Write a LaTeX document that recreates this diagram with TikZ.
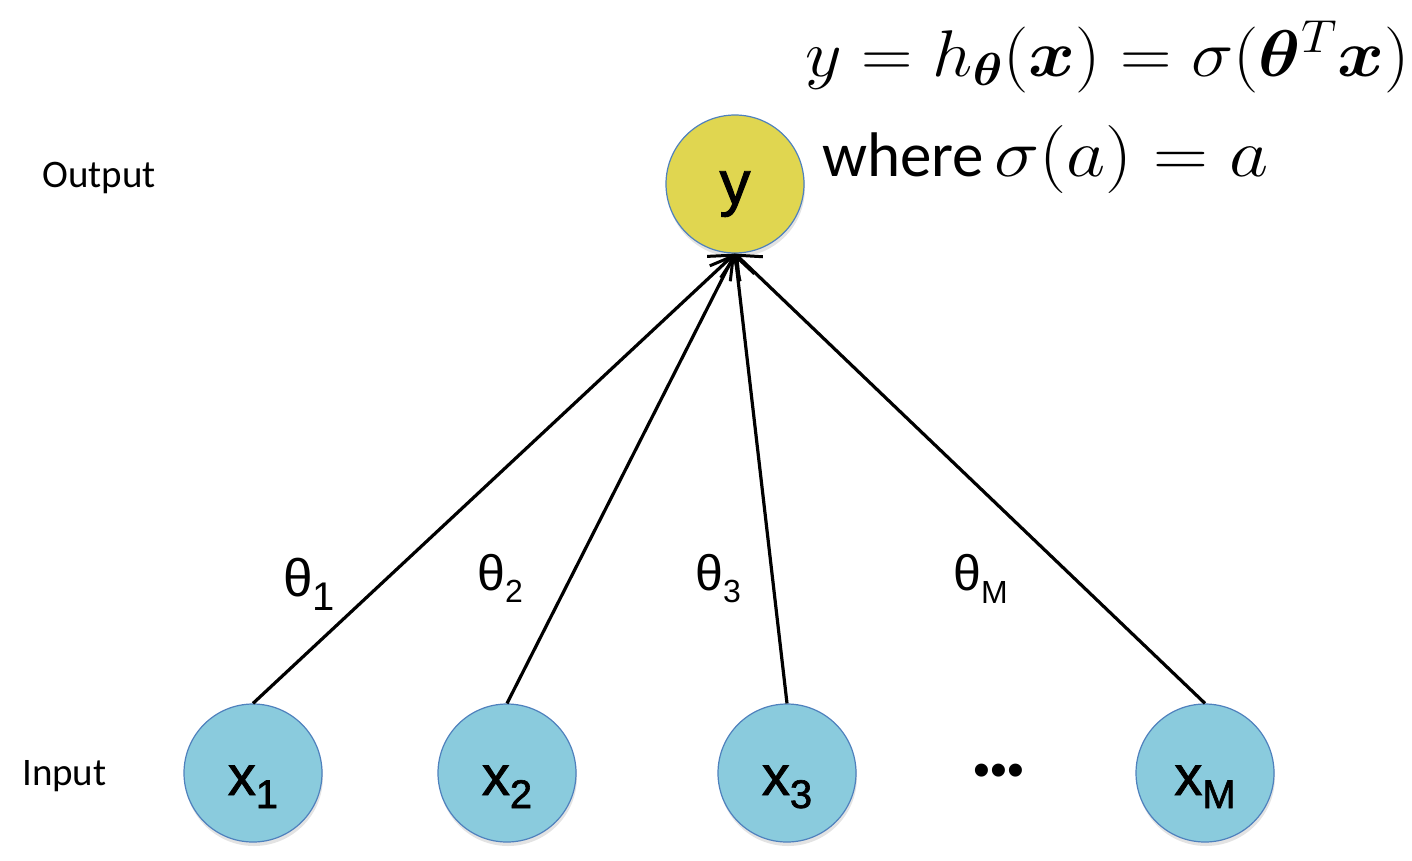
\RequirePackage{fix-cm}
\documentclass[tikz,border=0pt]{standalone}
\usepackage{amsmath,bm}
\usepackage{fontspec}
\newfontfamily\arial{Liberation Sans}
\newfontfamily\arialheavy[FakeBold=1.5]{Liberation Sans}
\newfontfamily\calibri{Carlito}
\usetikzlibrary{arrows.meta,shadows}

\definecolor{outfill}{RGB}{224,214,80}
\definecolor{infill}{RGB}{138,203,221}
\definecolor{ringcol}{RGB}{79,129,189}

\begin{document}
\begin{tikzpicture}[x=1pt,y=-1pt,
  neuron/.style={circle, minimum size=138pt, inner sep=0pt, draw=ringcol,
    line width=1.2pt, drop shadow={opacity=0.22, shadow xshift=1pt, shadow yshift=-4pt}},
  outneuron/.style={neuron, fill=outfill, text height=46pt, text depth=6pt,
    font=\arialheavy\fontsize{62}{66}\selectfont},
  inneuron/.style={neuron, fill=infill, text height=50pt, text depth=6pt,
    font=\arialheavy\fontsize{56}{60}\selectfont},
  weight/.style={anchor=base west, inner sep=0pt, font=\arial\fontsize{50}{54}\selectfont},
  layername/.style={anchor=base west, inner sep=0pt, font=\calibri\fontsize{39}{42}\selectfont},
  conn/.style={line width=3.2pt, -{Straight Barb[length=20pt,width=34pt,line width=3pt]}},
  eqn/.style={anchor=base west, inner sep=0pt}
]
\useasboundingbox (0,0) rectangle (1412,860);

% output unit
\node[outneuron] (y) at (735,184) {y};

% input units
\newcommand{\insub}[2]{#1\raisebox{-13pt}{\fontsize{40}{44}\selectfont #2}}
\node[inneuron] (x1) at (253,773) {\insub{x}{1}};
\node[inneuron] (x2) at (507,773) {\insub{x}{2}};
\node[inneuron] (x3) at (787,773) {\insub{x}{3}};
\node[inneuron] (xM) at (1205,773) {\insub{x}{M}};
\node[anchor=base, inner sep=0pt, font=\arial\fontsize{48}{50}\selectfont] (dots) at (999,786) {•••};

% layer names
\node[layername] (outlbl) at (42,187) {Output};
\node[layername] (inlbl) at (22,785) {Input};

% weighted connections
\draw[conn] (x1.north) -- (y.south);
\draw[conn] (x2.north) -- (y.south);
\draw[conn] (x3.north) -- (y.south);
\draw[conn] (xM.north) -- (y.south);

% weight labels
\node[weight, font=\arial\fontsize{53}{56}\selectfont] (w1) at (283,596) {θ\raisebox{-14pt}{\fontsize{40}{44}\selectfont 1}};
\node[weight] (w2) at (477,590) {θ\raisebox{-12pt}{\fontsize{32}{36}\selectfont 2}};
\node[weight] (w3) at (695,590) {θ\raisebox{-12pt}{\fontsize{32}{36}\selectfont 3}};
\node[weight] (wM) at (953,590) {θ\raisebox{-13pt}{\fontsize{32}{36}\selectfont M}};

% model equations (set slightly wide)
\node[eqn, font=\fontsize{66}{70}\selectfont] (model) at (805,76)
  {\scalebox{1.08}[1]{$y = h_{\bm{\theta}}(\bm{x}) = \sigma(\bm{\theta}^T\bm{x})$}};
\node[eqn, font=\fontsize{68}{72}\selectfont] (act) at (822,176)
  {{\calibri\fontsize{63}{66}\selectfont where}\hspace{10pt}\scalebox{1.12}[1]{$\sigma(a) = a$}};
\end{tikzpicture}
\end{document}
